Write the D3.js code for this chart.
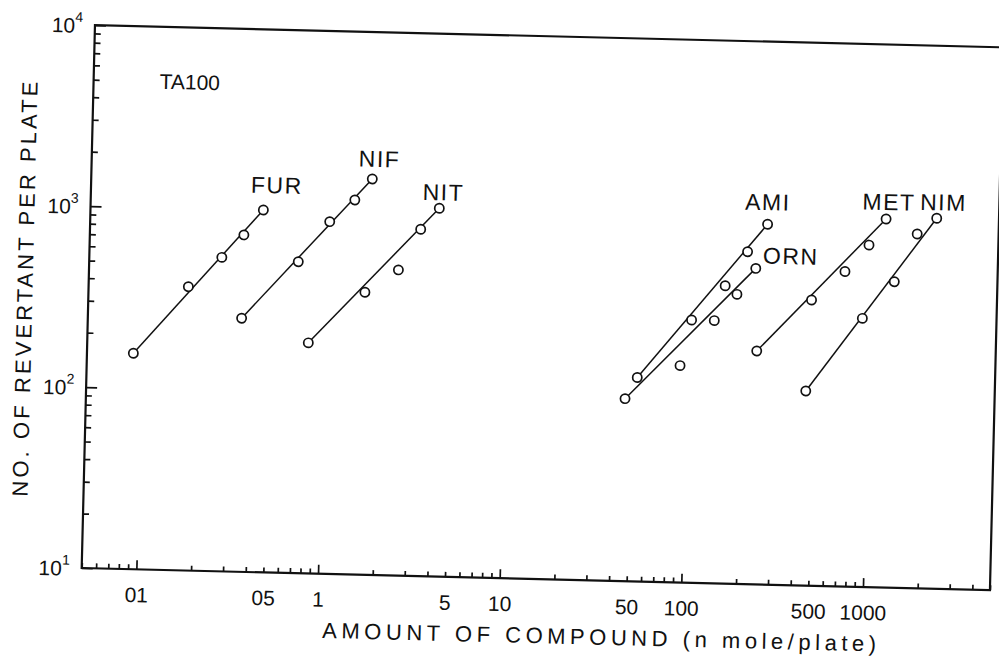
<!DOCTYPE html>
<html>
<head>
<meta charset="utf-8">
<script src="https://cdn.jsdelivr.net/npm/d3@7"></script>
<style>
  html, body { margin: 0; padding: 0; background: #fff; }
  svg { display: block; }
  text { font-family: "Liberation Sans", Arial, sans-serif; fill: #111; }
</style>
</head>
<body>
<svg id="chart" width="999" height="657"></svg>
<script>
// ---- data ----
const seriesNames = ["FUR", "NIF", "NIT", "AMI", "ORN", "MET", "NIM"];

const furDose = [0.090, 0.177, 0.268, 0.352, 0.447];
const furRevertants = [156, 370, 543, 727, 1004];

const nifDose = [0.351, 0.707, 1.04, 1.42, 1.76];
const nifRevertants = [252, 526, 884, 1174, 1542];

const nitDose = [0.823, 1.66, 2.52, 3.30, 4.15];
const nitRevertants = [188, 364, 489, 825, 1084];

const amiDose = [53.7, 105, 159, 209, 267];
const amiRevertants = [134, 283, 442, 687, 980];

const ornDose = [46.3, 92, 140, 185, 233];
const ornRevertants = [102, 158, 283, 398, 557];

const metDose = [242, 477, 722, 971, 1196];
const metRevertants = [195, 379, 550, 776, 1087];

const nimDose = [456, 913, 1353, 1782, 2271];
const nimRevertants = [119, 305, 491, 907, 1114];

const xDomain = [0.05, 5000];
const yDomain = [10, 10000];
const xLabelTicks = [0.1, 0.5, 1, 5, 10, 50, 100, 500, 1000];
const xTickLabels = ["01", "05", "1", "5", "10", "50", "100", "500", "1000"];
const yLabelTicks = [10, 100, 1000, 10000];
const yTickExponents = ["1", "2", "3", "4"];
const strainLabel = "TA100";
const xTitle = "AMOUNT OF COMPOUND (n mole/plate)";
const yTitle = "NO. OF REVERTANT PER PLATE";

// ---- layout ----
const originX = 81.7, originY = 568, tilt = 1.4;
const plotW = 908.5, plotH = 543;

const svg = d3.select("#chart");
svg.append("rect").attr("width", 999).attr("height", 657).attr("fill", "#fff");

const g = svg.append("g")
  .attr("transform", `translate(${originX},${originY}) rotate(${tilt})`);

const x = d3.scaleLog().domain(xDomain).range([0, plotW]);
const y = d3.scaleLog().domain(yDomain).range([0, -plotH]);

// minor / major tick values built from scale domains
function logTicks(domain) {
  const out = [];
  const lo = Math.floor(Math.log10(domain[0])), hi = Math.ceil(Math.log10(domain[1]));
  for (let e = lo; e <= hi; e++) {
    for (let m = 1; m <= 9; m++) {
      const v = m * Math.pow(10, e);
      if (v >= domain[0] * 0.999 && v <= domain[1] * 1.001) out.push(v);
    }
  }
  return out;
}
const isDecade = v => Math.abs(Math.log10(v) - Math.round(Math.log10(v))) < 1e-6;
const xMinor = logTicks(xDomain).filter(v => !isDecade(v));
const xMajor = logTicks(xDomain).filter(isDecade);
const yMinor = logTicks(yDomain).filter(v => !isDecade(v));
const yMajor = logTicks(yDomain).filter(isDecade);

// frame
g.append("rect")
  .attr("x", 0).attr("y", -plotH).attr("width", plotW).attr("height", plotH)
  .attr("fill", "none").attr("stroke", "#111").attr("stroke-width", 2.2);

function styleAxis(sel) {
  sel.select(".domain").remove();
  sel.selectAll(".tick line").attr("stroke", "#111").attr("stroke-width", 1.7);
}

// x axis ticks (inward)
g.append("g").call(d3.axisBottom(x).tickValues(xMinor).tickSize(-5).tickSizeOuter(0).tickFormat(""))
  .call(styleAxis);
g.append("g").call(d3.axisBottom(x).tickValues(xMajor).tickSize(-9).tickSizeOuter(0).tickFormat(""))
  .call(styleAxis);
// x labels
g.append("g").call(d3.axisBottom(x).tickValues(xLabelTicks).tickSize(0).tickPadding(18)
    .tickFormat((d, i) => xTickLabels[i]))
  .call(sel => {
    sel.select(".domain").remove();
    sel.selectAll("text").attr("font-size", 21).attr("font-family", "Liberation Sans, Arial, sans-serif").attr("fill", "#111");
  });

// y axis ticks (inward)
g.append("g").call(d3.axisLeft(y).tickValues(yMinor).tickSize(-6).tickSizeOuter(0).tickFormat(""))
  .call(styleAxis);
g.append("g").call(d3.axisLeft(y).tickValues(yMajor).tickSize(-11).tickSizeOuter(0).tickFormat(""))
  .call(styleAxis);
// y labels 10^n
const yl = g.append("g").selectAll("text").data(yLabelTicks).join("text")
  .attr("x", -12).attr("y", d => y(d) + 8)
  .attr("text-anchor", "end").attr("font-size", 21);
yl.append("tspan").text("10");
yl.append("tspan").attr("dy", -11).attr("font-size", 14).text((d, i) => yTickExponents[i]);

// axis titles
g.append("text")
  .attr("x", x(xDomain[0]) + 242).attr("y", 64)
  .attr("font-size", 22)
  .attr("textLength", 554).attr("lengthAdjust", "spacing")
  .text(xTitle);

g.append("text")
  .attr("transform", `translate(-56,${-plotH / 2 - 6}) rotate(-90)`)
  .attr("text-anchor", "middle")
  .attr("font-size", 22)
  .attr("textLength", 415).attr("lengthAdjust", "spacing")
  .text(yTitle);

// strain label
g.append("text").attr("x", 66).attr("y", -481).attr("font-size", 21).text(strainLabel);

// series
const seriesDose = [furDose, nifDose, nitDose, amiDose, ornDose, metDose, nimDose];
const seriesRev = [furRevertants, nifRevertants, nitRevertants, amiRevertants, ornRevertants, metRevertants, nimRevertants];
const labelOffset = {FUR: [-13, -17], NIF: [-14, -12], NIT: [-17, -8], AMI: [-23, -14], ORN: [7, -5], MET: [-24, -9], NIM: [-17, -8]};

const line = d3.line().x(d => x(d[0])).y(d => y(d[1]));

seriesNames.forEach((name, s) => {
  const pts = seriesDose[s].map((v, i) => [v, seriesRev[s][i]]);
  const ends = [pts[0], pts[pts.length - 1]];
  g.append("path").datum(ends).attr("d", line)
    .attr("fill", "none").attr("stroke", "#111").attr("stroke-width", 1.5);
});

seriesNames.forEach((name, s) => {
  const pts = seriesDose[s].map((v, i) => [v, seriesRev[s][i]]);
  g.append("g").selectAll("circle").data(pts).join("circle")
    .attr("cx", d => x(d[0])).attr("cy", d => y(d[1])).attr("r", 4.6)
    .attr("fill", "#fff").attr("stroke", "#111").attr("stroke-width", 1.7);
  const last = pts[pts.length - 1];
  g.append("text")
    .attr("x", x(last[0]) + labelOffset[name][0])
    .attr("y", y(last[1]) + labelOffset[name][1])
    .attr("font-size", 23).attr("letter-spacing", 1.5)
    .text(name);
});
</script>
</body>
</html>
